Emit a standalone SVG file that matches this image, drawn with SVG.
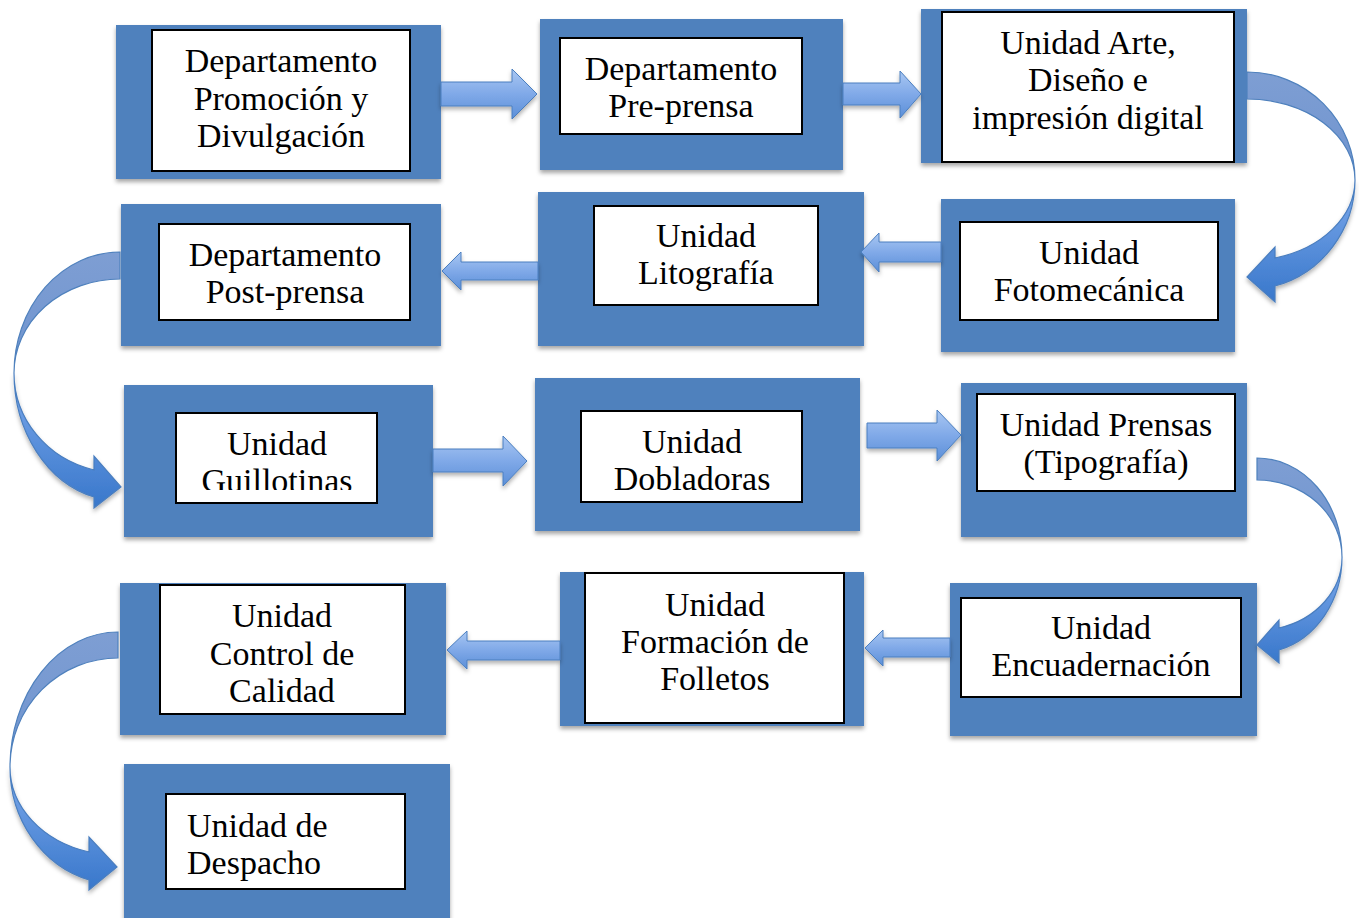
<svg xmlns="http://www.w3.org/2000/svg" width="1359" height="918" viewBox="0 0 1359 918">
<style>
.outer{fill:#4f81bd;filter:url(#sh)}
.inner{fill:#fff;stroke:#000;stroke-width:2}
.t{font-family:"Liberation Serif","Times New Roman",serif;font-size:34px;fill:#000;text-anchor:middle}
.tl{text-anchor:start}
.arr{fill:url(#ag);stroke:#4a7ebf;stroke-width:1;filter:url(#ash)}
.back{fill:url(#bg);stroke:#4f81bd;stroke-width:1.2}
.front{fill:url(#fg);stroke:#4a7ebf;stroke-width:1.2;filter:url(#ash)}
</style>
<defs>
<filter id="sh" x="-5%" y="-5%" width="110%" height="115%">
<feDropShadow dx="0" dy="3" stdDeviation="2" flood-color="#000" flood-opacity="0.35"/>
</filter>
<filter id="ash" x="-10%" y="-10%" width="120%" height="140%">
<feDropShadow dx="0" dy="3" stdDeviation="2" flood-color="#000" flood-opacity="0.3"/>
</filter>
<linearGradient id="ag" x1="0" y1="0" x2="0" y2="1">
<stop offset="0" stop-color="#a9c7f2"/>
<stop offset="0.5" stop-color="#80a9e8"/>
<stop offset="1" stop-color="#5b8fd8"/>
</linearGradient>
<linearGradient id="bg" x1="0" y1="0" x2="0" y2="1">
<stop offset="0" stop-color="#7e9ed3"/>
<stop offset="1" stop-color="#6f94cf"/>
</linearGradient>
<linearGradient id="fg" x1="0" y1="0" x2="0" y2="1">
<stop offset="0" stop-color="#7eaaec"/>
<stop offset="1" stop-color="#3877cb"/>
</linearGradient>
<clipPath id="cg"><rect x="176" y="413" width="201" height="77"/></clipPath>
</defs>

<g id="n1">
<rect class="outer" x="116" y="25" width="325" height="154"/>
<rect class="inner" x="152" y="30" width="258" height="141"/>
<text class="t" x="281" y="72">Departamento</text>
<text class="t" x="281" y="110">Promoción y</text>
<text class="t" x="281" y="147">Divulgación</text>
</g>
<g id="n2">
<rect class="outer" x="540" y="19" width="303" height="151"/>
<rect class="inner" x="560" y="38" width="242" height="96"/>
<text class="t" x="681" y="80">Departamento</text>
<text class="t" x="681" y="117">Pre-prensa</text>
</g>
<g id="n3">
<rect class="outer" x="921" y="9" width="326" height="154"/>
<rect class="inner" x="942" y="12" width="292" height="150"/>
<text class="t" x="1088" y="54">Unidad Arte,</text>
<text class="t" x="1088" y="91">Diseño e</text>
<text class="t" x="1088" y="129">impresión digital</text>
</g>
<g id="n4">
<rect class="outer" x="941" y="199" width="294" height="153"/>
<rect class="inner" x="960" y="222" width="258" height="98"/>
<text class="t" x="1089" y="264">Unidad</text>
<text class="t" x="1089" y="301">Fotomecánica</text>
</g>
<g id="n5">
<rect class="outer" x="538" y="192" width="326" height="154"/>
<rect class="inner" x="594" y="206" width="224" height="99"/>
<text class="t" x="706" y="247">Unidad</text>
<text class="t" x="706" y="284">Litografía</text>
</g>
<g id="n6">
<rect class="outer" x="121" y="204" width="320" height="142"/>
<rect class="inner" x="159" y="224" width="251" height="96"/>
<text class="t" x="285" y="266">Departamento</text>
<text class="t" x="285" y="303">Post-prensa</text>
</g>
<g id="n7">
<rect class="outer" x="124" y="385" width="309" height="152"/>
<rect class="inner" x="176" y="413" width="201" height="90"/>
<text class="t" x="277" y="455">Unidad</text>
<text class="t" x="277" y="492" clip-path="url(#cg)">Guillotinas</text>
</g>
<g id="n8">
<rect class="outer" x="535" y="378" width="325" height="153"/>
<rect class="inner" x="581" y="411" width="221" height="91"/>
<text class="t" x="692" y="453">Unidad</text>
<text class="t" x="692" y="490">Dobladoras</text>
</g>
<g id="n9">
<rect class="outer" x="961" y="383" width="286" height="154"/>
<rect class="inner" x="977" y="394" width="258" height="97"/>
<text class="t" x="1106" y="436">Unidad Prensas</text>
<text class="t" x="1106" y="473">(Tipografía)</text>
</g>
<g id="n10">
<rect class="outer" x="950" y="583" width="307" height="153"/>
<rect class="inner" x="961" y="598" width="280" height="99"/>
<text class="t" x="1101" y="639">Unidad</text>
<text class="t" x="1101" y="676">Encuadernación</text>
</g>
<g id="n11">
<rect class="outer" x="560" y="572" width="304" height="154"/>
<rect class="inner" x="585" y="573" width="259" height="150"/>
<text class="t" x="715" y="616">Unidad</text>
<text class="t" x="715" y="653">Formación de</text>
<text class="t" x="715" y="690">Folletos</text>
</g>
<g id="n12">
<rect class="outer" x="120" y="583" width="326" height="152"/>
<rect class="inner" x="160" y="585" width="245" height="129"/>
<text class="t" x="282" y="627">Unidad</text>
<text class="t" x="282" y="665">Control de</text>
<text class="t" x="282" y="702">Calidad</text>
</g>
<g id="n13">
<rect class="outer" x="124" y="764" width="326" height="160"/>
<rect class="inner" x="166" y="794" width="239" height="95"/>
<text class="t tl" x="187" y="837">Unidad de</text>
<text class="t tl" x="187" y="874">Despacho</text>
</g>

<g id="connectors">
<path class="arr" d="M441,82 H512 V69 L537,94 L512,119 V106 H441 Z"/>
<path class="arr" d="M843,83 H900 V71 L921,94 L900,118 V105 H843 Z"/>
<path class="arr" d="M941,242 H879 V233 L861,252 L879,272 V262 H941 Z"/>
<path class="arr" d="M538,262 H461 V252 L442,271 L461,290 V280 H538 Z"/>
<path class="arr" d="M433,449 H503 V436 L527,461 L503,486 V472 H433 Z"/>
<path class="arr" d="M867,423 H937 V410 L961,435 L937,461 V448 H867 Z"/>
<path class="arr" d="M950,638 H883 V630 L865,648 L883,666 V657 H950 Z"/>
<path class="arr" d="M560,641 H467 V631 L447,650 L467,669 V660 H560 Z"/>

<path class="back" d="M1247,72 A108,108 0 0 1 1355,180 A108,81 0 0 0 1247,99 Z"/>
<path class="front" d="M1355,180 A108,110 0 0 1 1275,286 L1275,302 L1247,277 L1275,247 L1275,258 A108,81 0 0 0 1355,180 Z"/>

<path class="back" d="M120,252 A106,121 0 0 0 14,373 A106,94 0 0 1 120,279 Z"/>
<path class="front" d="M14,373 A106,128 0 0 0 94,497 L94,508 L121,487 L94,456 L94,470 A106,100 0 0 1 14,373 Z"/>

<path class="back" d="M1257,458 A85,99 0 0 1 1342,557 A85,77 0 0 0 1257,480 Z"/>
<path class="front" d="M1342,557 A85,96 0 0 1 1279,650 L1279,663 L1257,645 L1279,620 L1279,628 A85,73 0 0 0 1342,557 Z"/>

<path class="back" d="M118,632 A108,135 0 0 0 10,767 A108,109 0 0 1 118,658 Z"/>
<path class="front" d="M10,767 A108,117 0 0 0 89,880 L89,890 L117,867 L89,837 L89,852 A108,88 0 0 1 10,767 Z"/>
</g>
</svg>
